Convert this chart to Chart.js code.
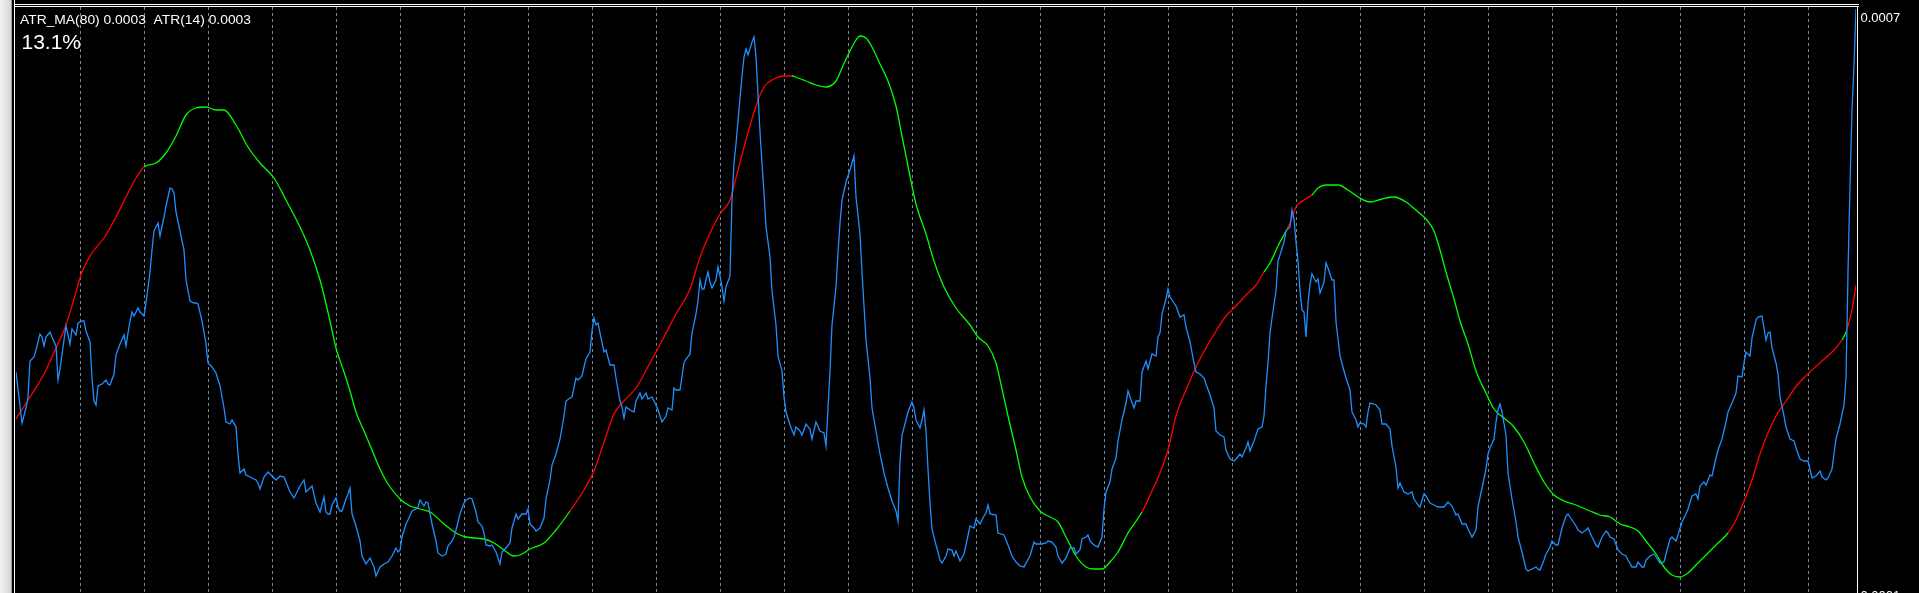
<!DOCTYPE html>
<html>
<head>
<meta charset="utf-8">
<title>ATR(14) with ATR_MA(80)</title>
<script src="https://cdn.jsdelivr.net/npm/chart.js@4.4.1/dist/chart.umd.min.js"></script>
<style>
  html, body { margin: 0; padding: 0; background: #000; overflow: hidden; }
  #wrap { position: relative; width: 1919px; height: 593px; }
</style>
</head>
<body>
<div id="wrap"><canvas id="atrChart" width="1919" height="593"></canvas></div>
<script>
// values are in units of 0.0001 (one pip)
const PIP = 0.0001;

const atrBars = [0,3,5,6,7,9,10,12,13,14,15,17,18,20,21,22,24,25,27,28,30,31,33,34,35,37,38,39,40,41,43,45,46,47,49,50,52,54,55,56,57,58,59,61,62,64,65,67,68,69,70,71,72,74,75,77,78,79,80,82,84,85,87,89,90,91,93,95,96,98,100,102,104,105,107,108,110,111,112,114,115,117,120,121,122,124,126,128,130,132,134,135,137,139,140,142,144,145,147,148,150,152,154,155,156,157,158,160,161,162,163,165,166,167,168,170,172,173,175,177,179,180,182,184,186,188,190,191,192,193,195,196,198,200,201,202,204,205,206,208,210,211,213,215,216,218,219,220,222,224,225,227,228,230,231,233,234,235,237,238,240,241,242,243,245,247,248,250,251,253,255,256,257,259,260,262,264,265,267,268,270,272,274,275,277,278,280,281,283,284,285,287,288,289,290,291,292,294,295,297,299,300,302,303,304,305,307,309,310,312,313,315,316,318,320,321,323,325,326,328,329,330,332,334,335,337,338,340,341,342,343,344,345,346,347,348,350,351,352,353,354,355,357,358,359,360,361,362,363,364,365,366,367,368,369,370,371,372,373,374,375,377,378,380,381,383,384,385,387,389,390,392,393,395,397,398,400,402,404,405,406,407,408,410,411,412,413,415,417,418,419,420,422,423,424,425,427,428,430,432,434,436,438,440,441,442,443,445,446,448,449,450,452,453,454,455,456,457,458,460,461,462,463,465,466,468,469,470,472,474,475,477,479,480,482,484,485,486,487,490,491,494,496,498,500,502,504,505,507,509,510,513,515,516,518,520,521,523,525,527,529,530,532,533,535,536,537,539,541,543,544,545,547,548,550,551,553,555,556,557,559,560,562,563,565,566,568,570,571,572,573,575,576,577,579,580,582,584,585,587,589,590,592,594,595,597,599,600,602,604,605,607,609,610,612,613,615,616,617,619,621,623,624,625,626,627,628,630,631,632,634,635,637,638,639,640,641,642,643,644,645,646,647,648,650,651,652,654,655,656,658,659,660,662,664,665,667,668,670,671,672,674,675,676,677,679,680,682,683,685,687,688,690,691,692,694,696,698,699,701,702,704,705,707,709,711,714,716,718,720,721,723,725,726,728,730,731,733,735,736,737,739,740,741,742,743,745,746,748,750,751,753,755,756,758,760,761,762,764,765,767,768,770,771,773,775,776,778,780,781,783,785,786,788,790,791,793,795,796,797,799,801,803,805,806,808,810,811,813,814,815,817,819,820,822,824,825,827,828,830,831,833,835,836,838,840,841,842,844,845,847,848,850,851,853,855,856,858,860,861,863,864,865,867,868,870,871,873,875,876,877,878,880,881,882,884,885,887,889,890,892,894,896,897,898,900,902,903,905,906,908,909,910,912,914,915,916,917,918,919,920];

const atrValues = [3.55,3.04,3.19,3.30,3.66,3.70,3.77,3.93,3.90,3.81,3.90,3.95,3.90,3.81,3.47,3.58,3.87,4.01,3.83,3.98,3.92,4.04,4.06,4.06,3.96,3.85,3.49,3.26,3.22,3.41,3.43,3.47,3.43,3.42,3.53,3.72,3.83,3.92,3.81,3.94,4.06,4.15,4.11,4.19,4.15,4.11,4.24,4.55,4.77,4.96,5.00,5.04,4.91,5.10,5.21,5.39,5.38,5.34,5.15,4.96,4.77,4.47,4.26,4.24,4.24,4.23,4.06,3.83,3.64,3.60,3.54,3.41,3.19,3.05,3.03,3.07,3.00,2.73,2.54,2.58,2.52,2.50,2.47,2.44,2.38,2.50,2.55,2.51,2.47,2.51,2.50,2.45,2.35,2.29,2.33,2.41,2.47,2.35,2.39,2.41,2.24,2.15,2.30,2.15,2.13,2.13,2.22,2.29,2.20,2.16,2.16,2.28,2.33,2.39,2.13,2.01,1.86,1.71,1.63,1.69,1.60,1.51,1.60,1.63,1.65,1.71,1.79,1.75,1.77,1.90,2.03,2.07,2.16,2.18,2.20,2.27,2.21,2.25,2.24,2.03,1.86,1.74,1.71,1.73,1.81,1.86,1.90,1.97,2.13,2.24,2.27,2.29,2.28,2.15,2.05,2.01,1.94,1.82,1.81,1.82,1.75,1.69,1.63,1.75,1.79,1.84,1.99,2.13,2.08,2.13,2.13,2.18,2.03,1.99,1.96,1.99,2.09,2.28,2.47,2.62,2.73,2.88,3.11,3.26,3.29,3.30,3.49,3.47,3.51,3.60,3.68,3.75,3.96,4.09,4.02,4.04,3.94,3.75,3.77,3.62,3.62,3.49,3.26,3.20,3.09,3.20,3.17,3.15,3.26,3.34,3.28,3.34,3.28,3.30,3.22,3.17,3.05,3.11,3.19,3.17,3.39,3.37,3.37,3.64,3.68,3.73,3.94,4.13,4.26,4.47,4.38,4.38,4.47,4.55,4.45,4.39,4.47,4.60,4.51,4.40,4.26,4.40,4.51,5.27,5.64,5.83,6.06,6.29,6.51,6.70,6.78,6.72,6.78,6.85,6.90,6.70,6.32,5.95,5.64,5.34,5.00,4.70,4.36,4.02,3.71,3.56,3.30,3.15,3.02,2.92,3.00,2.96,2.92,3.03,2.98,2.88,3.05,2.96,2.94,2.81,3.19,3.56,4.02,4.40,4.74,5.04,5.27,5.45,5.57,5.64,5.71,5.30,4.93,4.55,4.21,3.87,3.49,3.19,2.96,2.73,2.54,2.39,2.26,2.16,2.06,2.66,2.92,3.07,3.15,3.25,3.19,3.07,2.99,3.07,3.17,2.96,2.58,2.24,1.98,1.82,1.75,1.67,1.64,1.71,1.78,1.77,1.71,1.76,1.66,1.73,1.82,2.01,1.99,2.08,2.03,2.11,2.14,2.22,2.13,2.12,1.94,1.92,1.82,1.71,1.65,1.61,1.60,1.64,1.71,1.85,1.83,1.83,1.84,1.86,1.85,1.80,1.71,1.64,1.69,1.79,1.79,1.73,1.77,1.88,1.90,1.92,1.86,1.82,1.80,1.90,2.18,2.35,2.45,2.58,2.69,2.86,3.07,3.24,3.36,3.30,3.19,3.26,3.26,3.55,3.66,3.58,3.73,3.71,3.90,3.94,4.13,4.28,4.38,4.30,4.24,4.21,4.10,4.12,4.00,3.85,3.64,3.55,3.53,3.49,3.43,3.32,3.19,2.96,2.92,2.90,2.77,2.68,2.66,2.68,2.73,2.70,2.79,2.85,2.76,2.86,2.98,3.00,3.11,3.41,3.64,3.94,4.09,4.36,4.66,4.72,4.85,4.96,5.00,5.17,5.08,4.85,4.66,4.36,4.17,4.15,3.90,4.24,4.43,4.53,4.45,4.48,4.34,4.45,4.64,4.59,4.47,4.47,4.05,3.71,3.56,3.49,3.37,3.15,3.07,3.00,3.04,3.03,3.00,3.15,3.24,3.23,3.22,3.17,3.03,3.03,2.98,2.81,2.60,2.39,2.44,2.35,2.33,2.35,2.28,2.22,2.20,2.33,2.31,2.24,2.22,2.20,2.20,2.25,2.21,2.12,2.13,2.03,2.03,1.98,1.90,1.97,2.20,2.39,2.58,2.73,2.79,2.88,3.05,3.17,3.23,3.15,2.92,2.54,2.28,2.05,1.90,1.75,1.58,1.56,1.58,1.60,1.58,1.57,1.67,1.73,1.80,1.86,1.82,1.82,1.99,2.11,2.13,2.07,2.01,1.97,1.94,1.97,1.99,1.90,1.82,1.80,1.90,1.96,1.94,1.90,1.88,1.77,1.73,1.71,1.67,1.60,1.60,1.65,1.60,1.60,1.67,1.71,1.73,1.70,1.64,1.65,1.73,1.88,1.90,1.86,1.92,2.05,2.13,2.18,2.31,2.33,2.28,2.41,2.45,2.42,2.52,2.51,2.69,2.77,2.88,3.05,3.15,3.24,3.34,3.51,3.50,3.64,3.75,3.71,3.89,4.07,4.10,4.11,3.87,3.94,3.95,3.79,3.64,3.53,3.30,3.11,3.00,2.88,2.86,2.79,2.68,2.66,2.66,2.58,2.49,2.51,2.56,2.50,2.47,2.49,2.58,2.73,2.88,3.03,3.22,3.49,4.55,5.42,6.17,6.62,7.18];

const maBars = [0,7,14,20,25,29,33,38,44,50,55,60,64,70,75,80,85,90,95,100,104,110,116,122,129,135,142,147,152,157,160,164,167,170,174,178,182,186,192,197,202,207,214,220,225,234,239,244,249,252,257,264,270,277,284,289,294,299,304,310,317,324,330,337,342,347,352,357,360,365,370,374,379,384,388,391,395,400,405,410,413,416,420,422,425,428,432,436,440,443,446,450,455,459,464,470,477,481,486,490,493,496,500,503,507,512,517,521,525,530,535,539,543,547,551,556,563,568,572,576,580,585,590,595,600,605,610,615,620,624,627,631,635,637,640,644,648,651,655,661,666,671,677,683,689,695,701,705,709,712,715,719,722,726,730,735,739,744,749,754,759,764,769,774,780,787,792,797,802,807,811,815,820,824,828,832,836,840,845,850,856,860,864,868,872,876,880,885,891,897,903,909,913,915,918,920];

const maValues = [3.08,3.30,3.53,3.79,4.02,4.28,4.55,4.74,4.89,5.10,5.30,5.49,5.60,5.64,5.74,5.91,6.12,6.19,6.20,6.17,6.17,6.02,5.80,5.64,5.49,5.27,5.00,4.77,4.47,4.06,3.79,3.55,3.36,3.15,2.96,2.77,2.58,2.43,2.28,2.21,2.18,2.15,2.03,1.94,1.90,1.88,1.84,1.77,1.71,1.72,1.78,1.84,1.97,2.16,2.37,2.56,2.85,3.13,3.26,3.39,3.64,3.90,4.13,4.38,4.70,4.94,5.13,5.27,5.49,5.87,6.21,6.40,6.48,6.51,6.51,6.49,6.46,6.42,6.40,6.46,6.59,6.72,6.87,6.91,6.89,6.80,6.63,6.46,6.21,5.91,5.61,5.23,4.93,4.66,4.40,4.19,4.02,3.90,3.81,3.64,3.38,3.11,2.77,2.50,2.30,2.16,2.10,2.05,1.90,1.71,1.60,1.58,1.58,1.65,1.75,1.94,2.15,2.36,2.54,2.77,3.11,3.37,3.60,3.79,3.96,4.11,4.21,4.32,4.42,4.55,4.64,4.81,4.96,5.04,5.20,5.27,5.32,5.39,5.42,5.42,5.37,5.30,5.25,5.28,5.30,5.25,5.15,5.08,4.96,4.77,4.55,4.28,4.06,3.83,3.56,3.34,3.18,3.09,3.00,2.85,2.64,2.45,2.32,2.26,2.22,2.16,2.12,2.10,2.03,2.00,1.96,1.86,1.73,1.60,1.52,1.50,1.54,1.62,1.72,1.82,1.94,2.07,2.26,2.47,2.73,2.94,3.11,3.26,3.43,3.55,3.66,3.77,3.87,3.95,4.17,4.42];

// bars where the ATR_MA line flips colour (starts red)
const maSwitchBars = [64, 277, 388, 563, 624, 635, 648, 856, 913, 915];

const seriesNames = ['ATR_MA(80)', 'ATR(14)'];
const legendValues = ['0.0003', '0.0003'];
const headline = '13.1%';

const BAR_MAX = 920;
const Y_TOP = 7.20;
const Y_BOTTOM = 1.34;

const RED = '#ff0000';
const GREEN = '#00ff00';
const BLUE = '#1e90ff';

const gridBars = [];
for (let b = 32; b < BAR_MAX; b += 32) gridBars.push(b);

function maColour(bar) {
    let n = 0;
    for (const s of maSwitchBars) if (bar >= s) n++;
    return n % 2 === 0 ? RED : GREEN;
}

// draw text squeezed/stretched to a given width (MT4 uses Tahoma, not installed here)
function fitText(ctx, text, x, y, width) {
    const w = ctx.measureText(text).width;
    ctx.save();
    ctx.translate(x, y);
    ctx.scale(width / w, 1);
    ctx.fillText(text, 0, 0);
    ctx.restore();
}

const mtFrame = {
    id: 'mtFrame',
    afterDraw(chart) {
        const ctx = chart.ctx;
        const H = chart.height;
        const area = chart.chartArea;
        ctx.save();
        // left window edge
        const g = ctx.createLinearGradient(0, 0, 11, 0);
        g.addColorStop(0, '#f2f2f2');
        g.addColorStop(1, '#d6d6d6');
        ctx.fillStyle = g;
        ctx.fillRect(0, 0, 11, H);
        ctx.fillStyle = '#9c9c9c';
        ctx.fillRect(11, 0, 1, H);
        ctx.fillStyle = '#000';
        ctx.fillRect(12, 0, 2, H);
        ctx.fillStyle = '#ffffff';
        ctx.fillRect(14, 0, 1, H);
        // window top borders and price-scale separator
        ctx.fillRect(14, 4, 1845, 1);
        ctx.fillRect(14, 6, 1845, 1);
        ctx.fillRect(area.right + 1, 6, 1, H);

        // indicator short names
        ctx.fillStyle = '#ffffff';
        ctx.textBaseline = 'alphabetic';
        ctx.font = '13px "Liberation Sans", Arial, sans-serif';
        const legend = seriesNames[0] + ' ' + legendValues[0] + '  ' + seriesNames[1] + ' ' + legendValues[1];
        fitText(ctx, legend, 20, 24, 231);
        ctx.font = '21px "Liberation Sans", Arial, sans-serif';
        ctx.fillText(headline, 21.5, 49);

        // price scale: max at top, min at bottom
        const ys = chart.scales.y;
        ctx.font = '13px "Liberation Sans", Arial, sans-serif';
        ctx.fillText((ys.max * PIP).toFixed(4), 1860.5, 22);
        ctx.fillText((ys.min * PIP).toFixed(4), 1860.5, 600);
        ctx.restore();
    }
};

new Chart(document.getElementById('atrChart'), {
    type: 'line',
    data: {
        datasets: [
            {
                label: seriesNames[1],
                data: atrBars.map((b, i) => ({ x: b, y: atrValues[i] })),
                borderColor: BLUE,
                borderWidth: 1.3,
                pointRadius: 0,
                tension: 0
            },
            {
                label: seriesNames[0],
                data: maBars.map((b, i) => ({ x: b, y: maValues[i] })),
                borderColor: RED,
                borderWidth: 1.3,
                pointRadius: 0,
                cubicInterpolationMode: 'monotone',
                segment: {
                    borderColor: c => maColour(c.p0.parsed.x)
                }
            }
        ]
    },
    options: {
        responsive: false,
        animation: false,
        devicePixelRatio: 1,
        layout: { padding: { left: 16, top: 7, right: 63, bottom: 0 } },
        plugins: {
            legend: { display: false },
            tooltip: { enabled: false },
            title: { display: false }
        },
        scales: {
            x: {
                type: 'linear',
                min: 0,
                max: BAR_MAX,
                afterBuildTicks: axis => { axis.ticks = gridBars.map(v => ({ value: v })); },
                ticks: { display: false },
                grid: { color: '#778899', lineWidth: 1, drawTicks: false },
                border: { display: false, dash: [3, 3] }
            },
            y: {
                type: 'linear',
                min: Y_BOTTOM,
                max: Y_TOP,
                display: false
            }
        }
    },
    plugins: [mtFrame]
});
</script>
</body>
</html>
